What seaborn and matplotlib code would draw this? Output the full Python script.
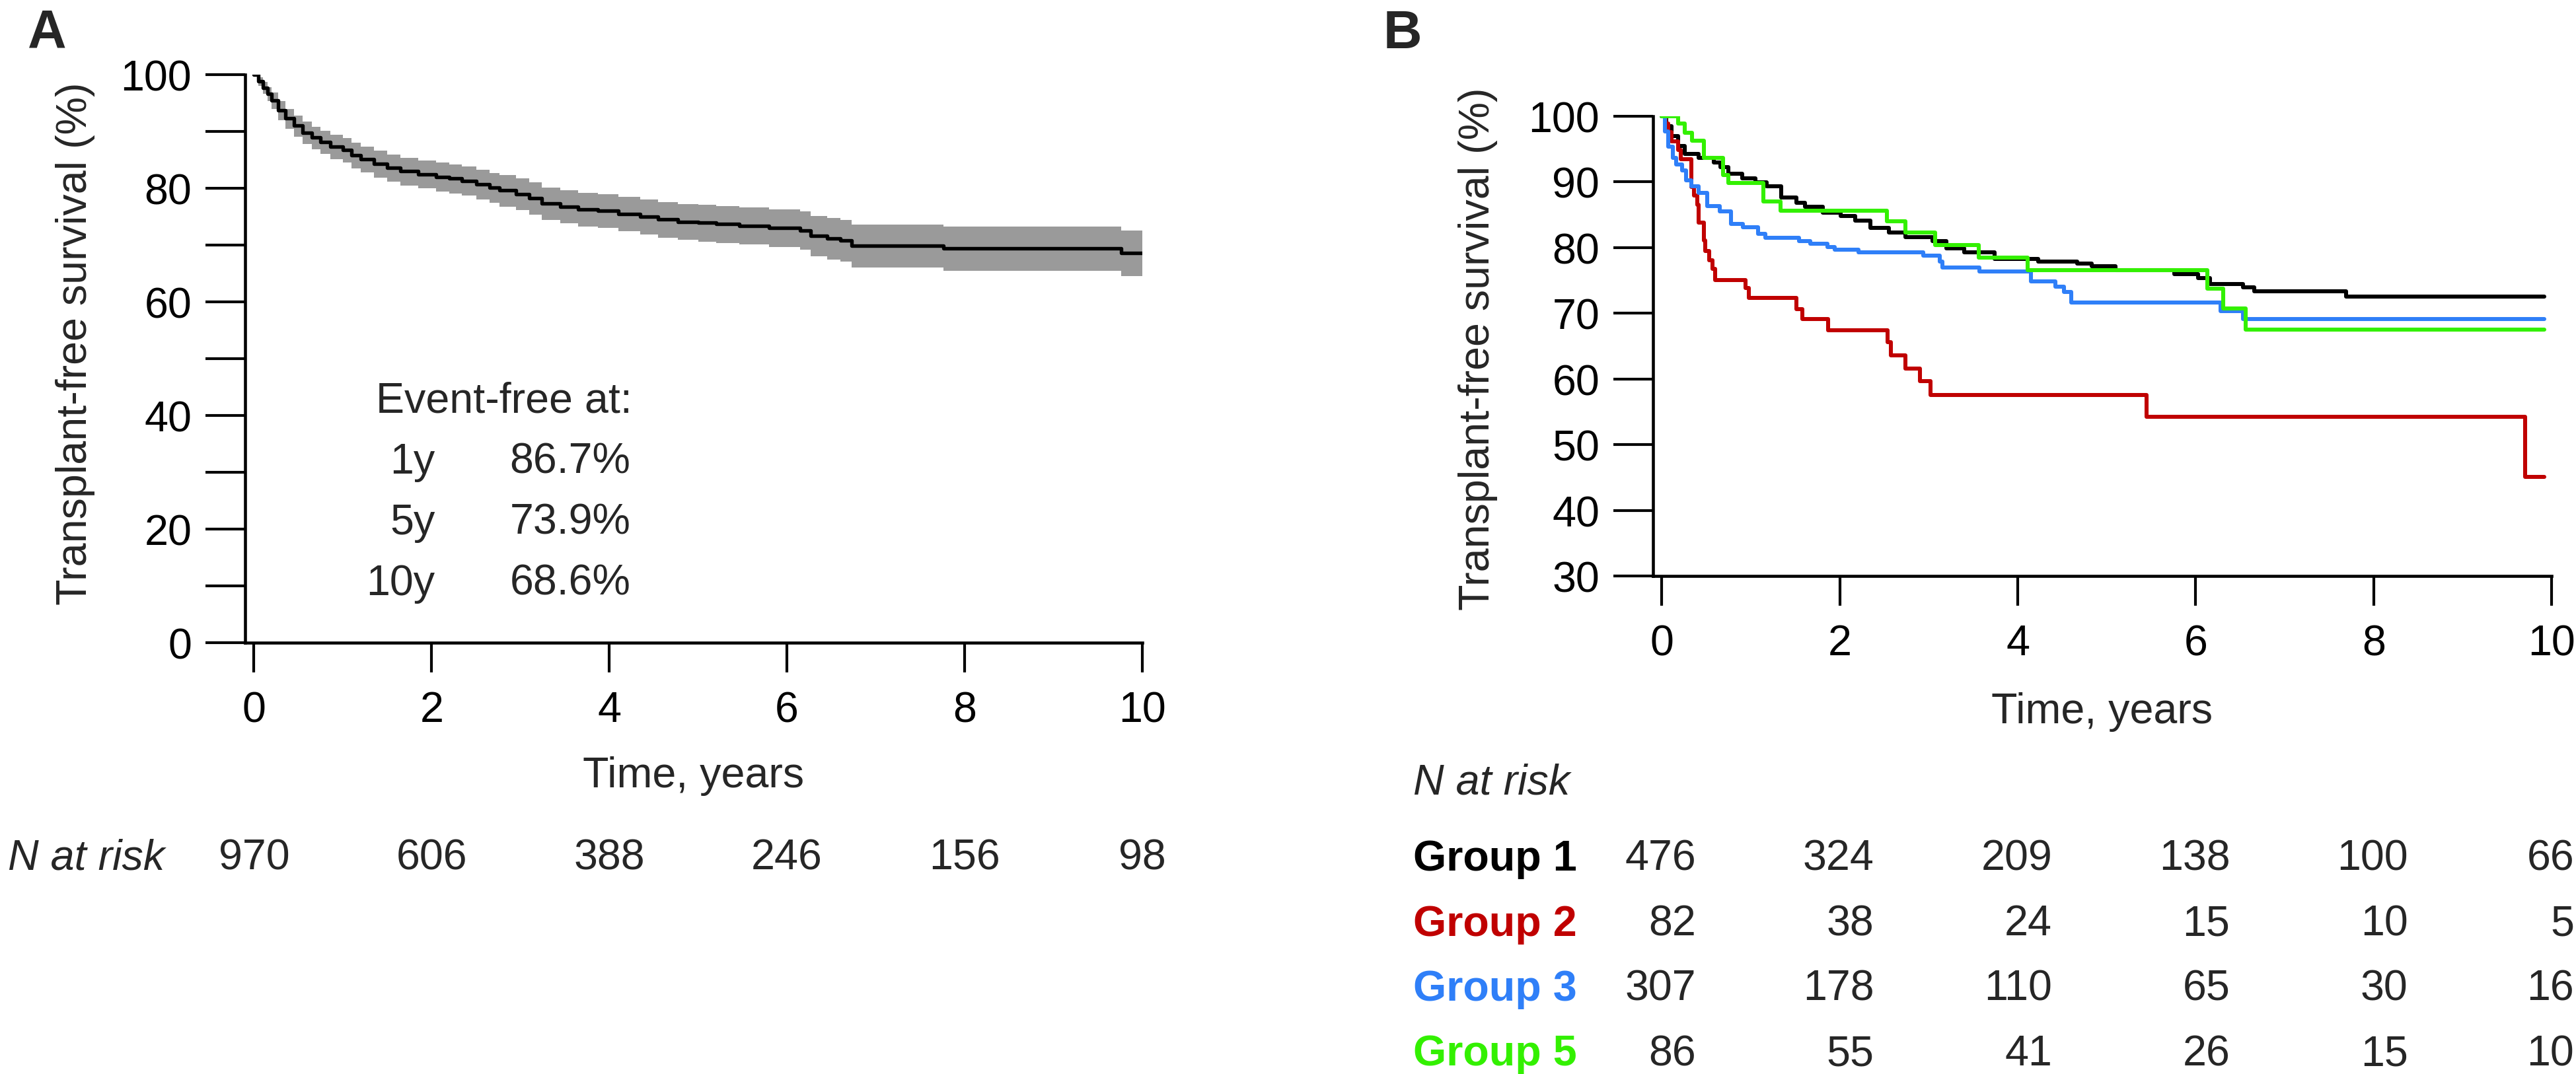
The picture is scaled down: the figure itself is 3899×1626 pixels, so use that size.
import matplotlib
matplotlib.use("Agg")
import matplotlib.pyplot as plt
from matplotlib import transforms
import seaborn as sns

# ── data ─────────────────────────────────────────────────────────────────────
# Panel A: overall KM estimate with confidence band (values in %)
a_time = [0, 0.05, 0.1, 0.15, 0.2, 0.27, 0.35, 0.45, 0.55, 0.65, 0.75, 0.86, 1.0, 1.1, 1.2,
          1.35, 1.5, 1.65, 1.85, 2.05, 2.2, 2.34, 2.5, 2.65, 2.76, 2.95, 3.1, 3.24, 3.45, 3.65,
          3.87, 4.1, 4.35, 4.55, 4.77, 5.0, 5.2, 5.46, 5.8, 6.15, 6.27, 6.45, 6.6, 6.73, 7.76,
          9.76, 10.0]
a_surv = [100, 98.8, 97.7, 96.6, 95.5, 93.7, 92.3, 91.0, 89.8, 88.9, 88.1, 87.3, 86.7, 85.8, 85.1,
          84.3, 83.6, 83.0, 82.5, 82.0, 81.7, 81.3, 80.7, 80.1, 79.6, 79.0, 78.2, 77.3, 76.8, 76.3,
          76.0, 75.5, 75.0, 74.5, 74.1, 73.9, 73.7, 73.4, 73.0, 72.6, 71.6, 71.2, 70.8, 69.9, 69.4,
          68.6, 68.6]
a_upper = [100, 99.5, 98.7, 97.8, 96.9, 95.3, 94.0, 92.8, 91.7, 90.8, 90.1, 89.4, 88.8, 88.0, 87.3,
           86.6, 85.9, 85.4, 84.9, 84.5, 84.2, 83.8, 83.3, 82.7, 82.3, 81.7, 81.0, 80.1, 79.7, 79.2,
           78.9, 78.5, 78.0, 77.6, 77.2, 77.1, 76.9, 76.6, 76.3, 75.9, 75.1, 74.8, 74.4, 73.6, 73.2,
           72.6, 72.6]
a_lower = [100, 98.0, 96.6, 95.3, 94.0, 92.0, 90.5, 89.1, 87.8, 86.9, 86.0, 85.1, 84.5, 83.5, 82.8,
           81.9, 81.2, 80.5, 80.0, 79.4, 79.1, 78.7, 78.0, 77.4, 76.8, 76.2, 75.3, 74.4, 73.8, 73.3,
           73.0, 72.4, 71.9, 71.3, 70.9, 70.6, 70.4, 70.1, 69.6, 69.2, 68.0, 67.5, 67.1, 66.1, 65.5,
           64.5, 64.5]

event_free_years = ["1y", "5y", "10y"]
event_free_pct = ["86.7%", "73.9%", "68.6%"]

risk_years = [0, 2, 4, 6, 8, 10]
a_at_risk = [970, 606, 388, 246, 156, 98]

# Panel B: KM estimates by group
g1_time = [0, 0.05, 0.11, 0.18, 0.26, 0.41, 0.58, 0.66, 0.75, 0.9, 1.05, 1.18, 1.34, 1.51, 1.61,
           1.81, 2.01, 2.17, 2.34, 2.55, 2.74, 3.04, 3.2, 3.4, 3.74, 4.23, 4.67, 4.83, 5.1, 5.76,
           6.03, 6.16, 6.53, 6.66, 7.69, 9.92]
g1_surv = [100, 98.5, 97.0, 95.5, 94.3, 93.7, 93.0, 92.3, 91.2, 90.5, 89.9, 89.3, 87.6, 86.8, 86.2,
           85.3, 84.8, 84.1, 83.0, 82.3, 81.6, 81.0, 79.9, 79.3, 78.3, 77.9, 77.6, 77.2, 76.6, 76.0,
           75.4, 74.5, 74.0, 73.3, 72.5, 72.5]
g2_time = [0, 0.04, 0.07, 0.11, 0.18, 0.21, 0.33, 0.36, 0.40, 0.41, 0.47, 0.49, 0.53, 0.57, 0.60,
           0.94, 0.98, 1.51, 1.58, 1.87, 2.54, 2.57, 2.74, 2.90, 3.02, 5.45, 9.70, 9.92]
g2_surv = [100, 98.9, 97.6, 96.2, 94.9, 93.5, 89.2, 87.9, 86.5, 83.8, 81.1, 79.5, 78.1, 76.8, 75.1,
           73.9, 72.3, 70.6, 69.1, 67.4, 65.6, 63.6, 61.6, 59.7, 57.6, 54.2, 45.1, 45.1]
g3_time = [0, 0.03, 0.07, 0.12, 0.16, 0.23, 0.27, 0.33, 0.41, 0.51, 0.65, 0.78, 0.91, 1.08, 1.16,
           1.54, 1.67, 1.86, 1.94, 2.21, 2.94, 3.12, 3.15, 3.57, 4.15, 4.42, 4.52, 4.6, 6.28, 6.53,
           9.92]
g3_surv = [100, 97.7, 95.4, 93.7, 92.7, 91.8, 90.2, 89.3, 88.3, 86.3, 85.5, 83.6, 83.1, 82.1, 81.5,
           81.0, 80.6, 80.1, 79.7, 79.3, 78.8, 77.9, 77.0, 76.4, 74.9, 74.1, 73.2, 71.6, 70.3, 69.1,
           69.1]
g5_time = [0, 0.18, 0.26, 0.34, 0.47, 0.69, 0.75, 1.14, 1.33, 2.53, 2.74, 3.07, 3.56, 4.11, 6.13,
           6.31, 6.56, 9.92]
g5_surv = [100, 98.9, 97.5, 96.3, 93.7, 91.0, 89.8, 87.0, 85.6, 84.0, 82.3, 80.4, 78.5, 76.6, 73.7,
           70.7, 67.5, 67.5]

group_names = ["Group 1", "Group 2", "Group 3", "Group 5"]
group_colors = ["#000000", "#C00000", "#2F7FF8", "#33F000"]
group_times = [g1_time, g2_time, g3_time, g5_time]
group_survs = [g1_surv, g2_surv, g3_surv, g5_surv]
b_at_risk = [
    [476, 324, 209, 138, 100, 66],
    [82, 38, 24, 15, 10, 5],
    [307, 178, 110, 65, 30, 16],
    [86, 55, 41, 26, 15, 10],
]

# ── figure setup ─────────────────────────────────────────────────────────────
W, H, DPI = 3899, 1627, 300
sns.set_style("ticks")
plt.rcParams["font.family"] = ["Liberation Sans", "DejaVu Sans"]
FS = 15.5

fig = plt.figure(figsize=(W / DPI, H / DPI), dpi=DPI)


def fx(x):
    return x / W


def fy(y):
    return 1 - y / H


axA = fig.add_axes([fx(371), fy(974), (1729 - 371) / W, (974 - 114) / H])
axB = fig.add_axes([fx(2502), fy(873), (3862 - 2502) / W, (873 - 177) / H])


def style_axis(ax):
    sns.despine(ax=ax)
    for s in ["left", "bottom"]:
        ax.spines[s].set_linewidth(1.1)
        ax.spines[s].set_color("black")
    ax.tick_params(axis="y", direction="out", length=14.4, width=1.0, pad=5,
                   labelsize=FS, colors="black")
    ax.tick_params(axis="x", direction="out", length=10.8, width=1.0, pad=6.5,
                   labelsize=FS, colors="black")
    ax.set_xlabel("")
    ax.set_ylabel("")


# ── panel A ──────────────────────────────────────────────────────────────────
axA.fill_between(a_time, a_lower, a_upper, step="post", color="#9A9A9A", lw=0, zorder=1)
sns.lineplot(x=a_time, y=a_surv, ax=axA, color="black", lw=1.3, drawstyle="steps-post",
             estimator=None, sort=False, zorder=2)
axA.set_xlim(-0.1, 10)
axA.set_ylim(0, 100)
axA.set_xticks(risk_years)
axA.set_xticklabels([str(v) for v in risk_years])
axA.set_yticks(range(0, 101, 10))
axA.set_yticklabels([str(v) if v % 20 == 0 else "" for v in range(0, 101, 10)])
style_axis(axA)

axA.text(4.26, 40.6, "Event-free at:", ha="right", va="baseline", fontsize=FS)
for i, (yr, pct) in enumerate(zip(event_free_years, event_free_pct)):
    yv = 29.9 - i * 10.7
    axA.text(2.04, yv, yr, ha="right", va="baseline", fontsize=FS)
    axA.text(4.24, yv, pct, ha="right", va="baseline", fontsize=FS)

# ── panel B ──────────────────────────────────────────────────────────────────
for name, col, t, s in zip(group_names, group_colors, group_times, group_survs):
    sns.lineplot(x=t, y=s, ax=axB, color=col, lw=1.45, drawstyle="steps-post",
                 estimator=None, sort=False)
axB.set_xlim(-0.1, 10)
axB.set_ylim(30, 100)
axB.set_xticks(risk_years)
axB.set_xticklabels([str(v) for v in risk_years])
axB.set_yticks(range(30, 101, 10))
style_axis(axB)

# ── labels ───────────────────────────────────────────────────────────────────
fig.text(fx(42), fy(72), "A", fontsize=19.5, fontweight="bold", va="baseline", ha="left")
fig.text(fx(2094), fy(73), "B", fontsize=19.5, fontweight="bold", va="baseline", ha="left")

fig.text(fx(114), fy(520), "Transplant-free survival (%)", rotation=90, ha="center",
         va="center", fontsize=FS)
fig.text(fx(2237), fy(528), "Transplant-free survival (%)", rotation=90, ha="center",
         va="center", fontsize=FS)

fig.text(fx(1050), fy(1192), "Time, years", ha="center", va="baseline", fontsize=FS)
fig.text(fx(3182), fy(1095), "Time, years", ha="center", va="baseline", fontsize=FS)

# ── risk tables ──────────────────────────────────────────────────────────────
fig.text(fx(12), fy(1317), "N at risk", ha="left", va="baseline", fontsize=FS, style="italic")
transA = transforms.blended_transform_factory(axA.transData, fig.transFigure)
for yr, n in zip(risk_years, a_at_risk):
    fig.text(yr, fy(1317), str(n), transform=transA, ha="center", va="baseline", fontsize=FS)

fig.text(fx(2139), fy(1203), "N at risk", ha="left", va="baseline", fontsize=FS, style="italic")
baseB = transforms.blended_transform_factory(axB.transData, fig.transFigure)
# numbers are right-aligned; the last column is pulled in to stay inside the figure
col_shift = [52, 52, 52, 52, 52, 34]
col_trans = [transforms.offset_copy(baseB, fig=fig, x=dx, y=0, units="dots") for dx in col_shift]
for i, (name, col, counts) in enumerate(zip(group_names, group_colors, b_at_risk)):
    ybase = fy(1318 + i * 98.5)
    fig.text(fx(2139), ybase, name, ha="left", va="baseline", fontsize=FS,
             fontweight="bold", color=col)
    for tr, yr, n in zip(col_trans, risk_years, counts):
        fig.text(yr, ybase, str(n), transform=tr, ha="right", va="baseline", fontsize=FS)

fig.savefig("out.png", dpi=DPI)
